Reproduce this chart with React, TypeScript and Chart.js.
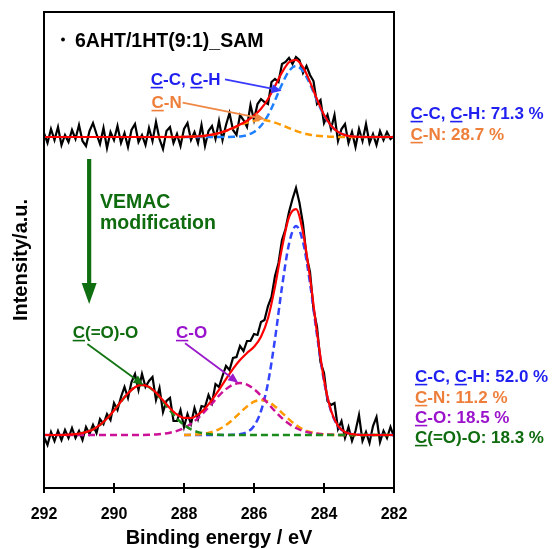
import React, { useEffect, useRef } from 'react';
import { Chart, registerables } from 'chart.js';

Chart.register(...registerables);

const FONT = '"Liberation Sans", Arial, Helvetica, sans-serif';

// x positions of the fitted curves (eV)
const fitEnergy = [292, 291.8, 291.6, 291.4, 291.2, 291, 290.8, 290.6, 290.4, 290.2, 290, 289.8, 289.6, 289.4, 289.2, 289, 288.8, 288.6, 288.4, 288.2, 288, 287.8, 287.6, 287.4, 287.2, 287, 286.8, 286.6, 286.4, 286.2, 286, 285.8, 285.6, 285.4, 285.2, 285, 284.8, 284.6, 284.4, 284.2, 284, 283.8, 283.6, 283.4, 283.2, 283, 282.8, 282.6, 282.4, 282.2, 282];

// x positions of the measured spectra (eV)
const rawEnergy = [
  292.0, 291.9, 291.8, 291.7, 291.6, 291.5, 291.4, 291.3, 291.2, 291.1,
  291.0, 290.9, 290.8, 290.7, 290.6, 290.5, 290.4, 290.3, 290.2, 290.1,
  290.0, 289.9, 289.8, 289.7, 289.6, 289.5, 289.4, 289.3, 289.2, 289.1,
  289.0, 288.9, 288.8, 288.7, 288.6, 288.5, 288.4, 288.3, 288.2, 288.1,
  288.0, 287.9, 287.8, 287.7, 287.6, 287.5, 287.4, 287.3, 287.2, 287.1,
  287.0, 286.9, 286.8, 286.7, 286.6, 286.5, 286.4, 286.3, 286.2, 286.1,
  286.0, 285.9, 285.8, 285.7, 285.6, 285.5, 285.4, 285.3, 285.2, 285.1,
  285.0, 284.9, 284.8, 284.7, 284.6, 284.5, 284.4, 284.3, 284.2, 284.1,
  284.0, 283.9, 283.8, 283.7, 283.6, 283.5, 283.4, 283.3, 283.2, 283.1,
  283.0, 282.9, 282.8, 282.7, 282.6, 282.5, 282.4, 282.3, 282.2, 282.1,
  282.0,
];

// ---- upper spectrum: 6AHT/1HT(9:1)_SAM (intensity, a.u., with offset) ----
const topRaw = [
  355, 345, 359, 348, 361, 343, 353, 346, 358, 349,
  363, 347, 342, 357, 365, 354, 344, 360, 340, 356,
  348, 362, 345, 355, 341, 358, 364, 346, 353, 343,
  360, 347, 366, 349, 339, 357, 361, 345, 354, 342,
  359, 365, 348, 356, 345, 363, 342, 357, 362, 349,
  367, 348, 363, 375, 358, 353, 373, 368, 361, 383,
  368, 384, 389, 386, 384, 406, 409, 406, 424, 426,
  430, 424, 431, 428, 415, 422, 413, 407, 384, 388,
  365, 373, 359, 373, 347, 359, 364, 345, 356, 341,
  359, 347, 364, 345, 354, 343, 357, 348, 356, 349,
  352,
];
const topCC = [
  null, null, null, null, null, null, null, null, null, null,
  null, null, null, null, null, null, null, null, null, null,
  351, 351, 351, 351, 351, 351, 351, 351.2, 351.6, 352.9,
  356, 362.2, 372.7, 387.5, 403.8, 416.9, 422, 416.9, 403.8, 387.5,
  372.7, 362.2, 356, 352.9, 351.6, 351.2, 351, 351, 351, 351, 351,
];
const topCN = [
  null, null, null, null, null, null, null, null, null, null,
  null, null, null, null, null, null, 351, 351, 351, 351,
  351.1, 351.3, 351.6, 352.2, 353.3, 354.9, 357.1, 359.9, 362.8, 365.4,
  367.3, 368, 367.3, 365.4, 362.8, 359.9, 357.1, 354.9, 353.3, 352.2,
  351.6, 351.3, 351.1, 351, 351, 351, 351, 351, 351, 351, 351,
];
const topFit = [
  351, 351, 351, 351, 351, 351, 351, 351, 351, 351,
  351, 351, 351, 351, 351, 351, 351, 351, 351, 351,
  351.1, 351.3, 351.6, 352.2, 353.3, 354.9, 357.1, 360.1, 363.4, 367.3,
  372.3, 379.2, 389, 401.9, 415.6, 425.8, 428.1, 420.8, 406.1, 388.7,
  373.3, 362.5, 356.1, 352.9, 351.6, 351.2, 351, 351, 351, 351, 351,
];

// ---- lower spectrum: after VEMAC modification ----
const botRaw = [
  51, 43, 56, 47, 57, 48, 58, 50, 60, 50,
  57, 48, 61, 54, 63, 55, 69, 64, 74, 68,
  85, 78, 91, 101, 90, 106, 114, 98, 114, 101,
  107, 111, 88, 100, 76, 87, 90, 67, 67, 78,
  61, 74, 64, 80, 69, 82, 81, 93, 85, 104,
  101, 112, 122, 118, 130, 131, 142, 137, 147, 147,
  154, 153, 166, 168, 182, 191, 212, 225, 248, 259,
  276, 289, 300, 285, 264, 232, 216, 179, 161, 126,
  115, 87, 83, 85, 59, 67, 50, 61, 47, 57,
  73, 47, 56, 45, 62, 71, 46, 57, 50, 61,
  51,
];
const botCC = [
  null, null, null, null, null, null, null, null, null, null,
  null, null, null, null, null, null, null, null, null, null,
  53, 53, 53, 53, 53, 53, 53, 53.2, 53.8, 56,
  62, 77, 105, 149, 201, 244, 262, 246, 205, 153,
  107, 77, 62, 56, 53.8, 53.2, 53, 53, 53, 53, 53,
];
const botCN = [
  null, null, null, null, null, null, null, null, null, null,
  null, null, null, null, null, null, null, null, null, null,
  53, 53.2, 53.6, 54.4, 56, 58.7, 62.9, 68.6, 75.2, 81.6,
  86.3, 88, 86.3, 81.6, 75.2, 68.6, 62.9, 58.7, 56, 54.4,
  53.6, 53.2, 53, 53, 53, 53, 53, 53, 53, 53, 53,
];
const botCO = [
  53, 53, 53, 53, 53, 53, 53, 53, 53, 53,
  53, 53, 53, 53, 53.1, 53.3, 53.6, 54.2, 55.3, 57.1,
  60, 64.2, 69.9, 76.8, 84.5, 92.3, 98.9, 103.4, 105, 103.4,
  98.9, 92.3, 84.5, 76.8, 69.9, 64.2, 60, 57.1, 55.3, 54.2,
  53.6, 53.3, 53.1, 53, null, null, null, null, null, null, null,
];
const botCOO = [
  null, null, null, null, null, 54.4, 55.9, 58.6, 63.1, 69.4,
  77.5, 86.5, 94.8, 100.8, 103, 100.8, 94.8, 86.5, 77.5, 69.4,
  63.1, 58.6, 55.9, 54.4, 53.6, 53.2, 53.1, 53, 53, 53,
  53, 53, 53, 53, 53, 53, 53, 53, 53, 53,
  53, 53, 53, 53, 53, 53, 53, 53, 53, 53, 53,
];
const botFit = [
  53, 53, 53, 53.2, 53.6, 54.4, 55.9, 58.6, 63.1, 69.4,
  77.5, 86.5, 94.8, 100.8, 103.1, 101.1, 95.4, 87.7, 79.8, 73.5,
  70.1, 70, 73.4, 79.6, 88.1, 98.2, 108.9, 119.2, 128, 135,
  141.2, 151.3, 169.8, 201.4, 240.1, 270.8, 278.9, 255.8, 210.3, 155.6,
  108.2, 77.5, 62.1, 56, 53.8, 53.2, 53, 53, 53, 53, 53,
];

const xTickValues = [292, 290, 288, 286, 284, 282];

// arrows in data coordinates [x1, y1, x2, y2]
const arrowTopCC = [286.83, 408.7, 285.21, 397.3];
const arrowTopCN = [288.04, 385.3, 285.69, 369];
const arrowCOO = [290.76, 144, 289.16, 103];
const arrowCO = [287.97, 144.7, 286.45, 105.3];
const arrowVEMAC = [290.71, 329, 290.71, 184];

const C_BLUE = '#1f1ff2';
const C_ORANGE = '#ee7f3b';
const C_PURPLE = '#9a12cc';
const C_GREEN = '#0e6b0e';

type Part = [string, boolean];

function richText(ctx: CanvasRenderingContext2D, parts: Part[], x: number, y: number, color: string, size: number) {
  ctx.font = `bold ${size}px ${FONT}`;
  ctx.fillStyle = color;
  ctx.strokeStyle = color;
  ctx.textAlign = 'left';
  ctx.textBaseline = 'alphabetic';
  let cx = x;
  for (const [t, u] of parts) {
    ctx.fillText(t, cx, y);
    const w = ctx.measureText(t).width;
    if (u) {
      ctx.lineWidth = 1.6;
      ctx.beginPath();
      ctx.moveTo(cx, y + 2.6);
      ctx.lineTo(cx + w, y + 2.6);
      ctx.stroke();
    }
    cx += w;
  }
}

function arrow(ctx: CanvasRenderingContext2D, x1: number, y1: number, x2: number, y2: number, color: string, width: number, headLen: number, headW: number) {
  const ang = Math.atan2(y2 - y1, x2 - x1);
  const bx = x2 - headLen * Math.cos(ang);
  const by = y2 - headLen * Math.sin(ang);
  ctx.strokeStyle = color;
  ctx.lineWidth = width;
  ctx.beginPath();
  ctx.moveTo(x1, y1);
  ctx.lineTo(bx, by);
  ctx.stroke();
  ctx.fillStyle = color;
  ctx.beginPath();
  ctx.moveTo(x2, y2);
  ctx.lineTo(bx + headW * Math.sin(ang), by - headW * Math.cos(ang));
  ctx.lineTo(bx - headW * Math.sin(ang), by + headW * Math.cos(ang));
  ctx.closePath();
  ctx.fill();
}

const annotPlugin = {
  id: 'xpsAnnotations',
  afterDraw(chart: any) {
    const { ctx, chartArea: a, scales } = chart;
    const xs = scales.x;
    const ys = scales.y;
    const px = (v: number) => xs.getPixelForValue(v);
    const py = (v: number) => ys.getPixelForValue(v);
    ctx.save();
    // frame
    ctx.strokeStyle = '#000';
    ctx.lineWidth = 2;
    ctx.strokeRect(a.left, a.top, a.right - a.left, a.bottom - a.top);
    // inner half of the crossing ticks
    ctx.beginPath();
    for (const v of xTickValues) {
      const x = px(v);
      ctx.moveTo(x, a.bottom);
      ctx.lineTo(x, a.bottom - 5);
    }
    ctx.stroke();

    // y axis title
    ctx.save();
    ctx.translate(26.5, 260);
    ctx.rotate(-Math.PI / 2);
    ctx.font = `bold 20px ${FONT}`;
    ctx.fillStyle = '#000';
    ctx.textAlign = 'center';
    ctx.textBaseline = 'alphabetic';
    ctx.fillText('Intensity/a.u.', 0, 0);
    ctx.restore();

    // sample title with bullet
    ctx.fillStyle = '#000';
    ctx.beginPath();
    ctx.arc(63, 39.5, 1.9, 0, Math.PI * 2);
    ctx.fill();
    richText(ctx, [['6AHT/1HT(9:1)_SAM', false]], 75, 47, '#000', 19.5);

    // upper labels
    richText(ctx, [['C', true], ['-C, ', false], ['C', true], ['-H', false]], 150.7, 85, C_BLUE, 17);
    richText(ctx, [['C', true], ['-N', false]], 151.5, 108, C_ORANGE, 17);
    richText(ctx, [['C', true], ['-C, ', false], ['C', true], ['-H: 71.3 %', false]], 410.5, 119, C_BLUE, 17);
    richText(ctx, [['C', true], ['-N: 28.7 %', false]], 410.5, 140, C_ORANGE, 17);

    // VEMAC text
    richText(ctx, [['VEMAC', false]], 100, 208, C_GREEN, 19.5);
    richText(ctx, [['modification', false]], 100, 228.5, C_GREEN, 19.5);

    // lower labels
    richText(ctx, [['C', true], ['(=O)-O', false]], 72.7, 338, C_GREEN, 17);
    richText(ctx, [['C', true], ['-O', false]], 176, 338, C_PURPLE, 17);
    richText(ctx, [['C', true], ['-C, ', false], ['C', true], ['-H: 52.0 %', false]], 415, 382, C_BLUE, 17);
    richText(ctx, [['C', true], ['-N: 11.2 %', false]], 415, 403, C_ORANGE, 17);
    richText(ctx, [['C', true], ['-O: 18.5 %', false]], 415, 423, C_PURPLE, 17);
    richText(ctx, [['C', true], ['(=O)-O: 18.3 %', false]], 415, 443, C_GREEN, 17);

    // arrows
    const A = (d: number[], color: string, w: number, hl: number, hw: number) =>
      arrow(ctx, px(d[0]), py(d[1]), px(d[2]), py(d[3]), color, w, hl, hw);
    A(arrowTopCC, '#3a3aff', 1.8, 10, 4.5);
    A(arrowTopCN, '#ee8844', 1.8, 10, 4.5);
    A(arrowCOO, '#127512', 1.8, 10, 4.5);
    A(arrowCO, '#9a1acc', 1.8, 10, 4.5);
    A(arrowVEMAC, '#0f6e0f', 4.2, 21, 7.5);
    ctx.restore();
  },
};

function series(xs: number[], ys: (number | null)[]) {
  return xs.map((x, i) => ({ x, y: ys[i] }));
}

export default function App() {
  const ref = useRef<HTMLCanvasElement>(null);
  useEffect(() => {
    const fitStyle = (color: string, order: number) => ({
      borderColor: color,
      borderWidth: 2.5,
      borderDash: [7, 4],
      pointRadius: 0,
      fill: false,
      cubicInterpolationMode: 'monotone' as const,
      spanGaps: false,
      order,
    });
    const chart = new Chart(ref.current as HTMLCanvasElement, {
      type: 'line',
      data: {
        datasets: [
          { label: 'top fit', data: series(fitEnergy, topFit), borderColor: '#ff0000', borderWidth: 2.2, pointRadius: 0, cubicInterpolationMode: 'monotone', order: 0 },
          { label: 'bottom fit', data: series(fitEnergy, botFit), borderColor: '#ff0000', borderWidth: 2.2, pointRadius: 0, cubicInterpolationMode: 'monotone', order: 0 },
          { label: 'top C-N', data: series(fitEnergy, topCN), ...fitStyle('#ff9a00', 1) },
          { label: 'top C-C', data: series(fitEnergy, topCC), ...fitStyle('#1e7fff', 2) },
          { label: 'bottom C(=O)-O', data: series(fitEnergy, botCOO), ...fitStyle('#1a8a1a', 1) },
          { label: 'bottom C-O', data: series(fitEnergy, botCO), ...fitStyle('#cc1199', 2) },
          { label: 'bottom C-N', data: series(fitEnergy, botCN), ...fitStyle('#ff9a00', 3) },
          { label: 'bottom C-C', data: series(fitEnergy, botCC), ...fitStyle('#3344ff', 4) },
          { label: 'top raw', data: series(rawEnergy, topRaw), borderColor: '#000', borderWidth: 2.2, pointRadius: 0, tension: 0, order: 10 },
          { label: 'bottom raw', data: series(rawEnergy, botRaw), borderColor: '#000', borderWidth: 2.2, pointRadius: 0, tension: 0, order: 10 },
        ] as any,
      },
      options: {
        responsive: false,
        animation: false,
        devicePixelRatio: 1,
        layout: { padding: { left: 44, right: 159, top: 12, bottom: 0 } },
        plugins: { legend: { display: false }, tooltip: { enabled: false } },
        scales: {
          x: {
            type: 'linear',
            min: 282,
            max: 292,
            reverse: true,
            position: 'bottom',
            afterFit: (s: any) => { s.height = 61; },
            ticks: {
              stepSize: 2,
              color: '#000',
              font: { family: FONT, size: 16, weight: 'bold' },
              padding: 12,
              maxRotation: 0,
              autoSkip: false,
            },
            grid: { drawOnChartArea: false, drawTicks: true, tickLength: 5, color: '#000', lineWidth: 2 },
            border: { display: true, color: '#000', width: 2 },
            title: {
              display: true,
              text: 'Binding energy / eV',
              color: '#000',
              font: { family: FONT, size: 20, weight: 'bold', lineHeight: 1.1 },
              padding: { top: 0, bottom: 0 },
            },
          },
          y: { type: 'linear', display: false, min: 0, max: 476 },
        },
      } as any,
      plugins: [annotPlugin],
    });
    return () => chart.destroy();
  }, []);
  return (
    <div style={{ position: 'absolute', left: 0, top: 0, width: 553, height: 549, background: '#fff' }}>
      <canvas ref={ref} width={553} height={549} style={{ display: 'block', width: 553, height: 549 }} />
    </div>
  );
}
